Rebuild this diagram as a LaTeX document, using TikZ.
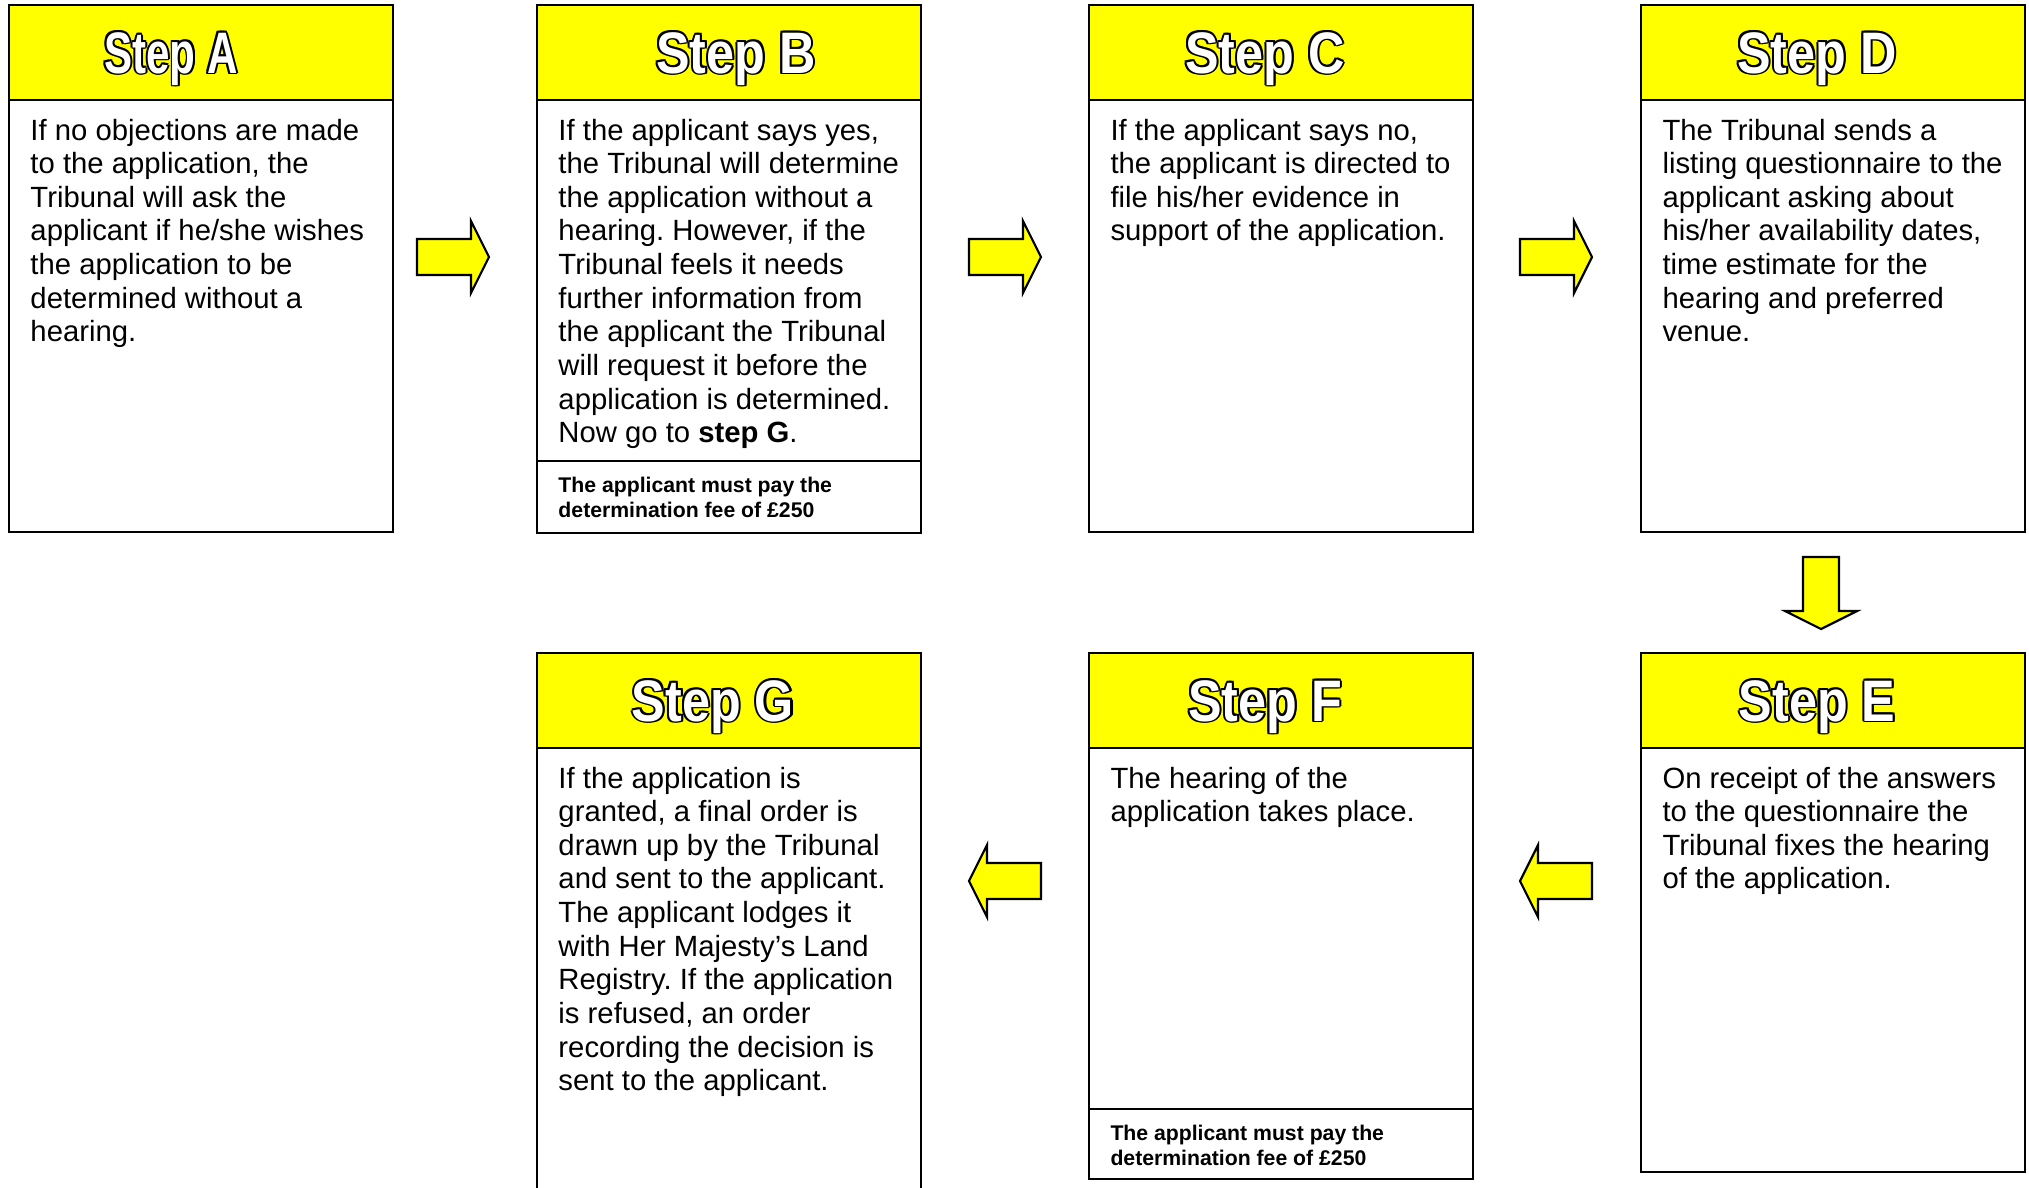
\documentclass[tikz,border=0pt]{standalone}
\usepackage{fontspec}
\setmainfont{Liberation Sans}
\usepackage{graphicx}
\frenchspacing
\definecolor{hdryellow}{RGB}{255,255,0}
\newcommand\oc[3]{\rlap{\kern#1\raisebox{#2}{\color{black}#3}}}
\newcommand\outl[2]{\scalebox{#1}[1]{\fontsize{24pt}{24pt}\selectfont\bfseries
 \oc{1.0pt}{0pt}{#2}\oc{-1.0pt}{0pt}{#2}\oc{0pt}{0.8pt}{#2}\oc{0pt}{-0.8pt}{#2}%
 \oc{0.75pt}{0.57pt}{#2}\oc{-0.75pt}{0.57pt}{#2}\oc{0.75pt}{-0.57pt}{#2}\oc{-0.75pt}{-0.57pt}{#2}%
 \textcolor{white}{#2}}}
\newcommand\bodytxt[1]{\parbox[t]{170pt}{\fontsize{12pt}{13.8pt}\selectfont #1}}
\newcommand\feetxt{\parbox[t]{170pt}{\fontsize{8.7pt}{10.5pt}\selectfont\bfseries The applicant must pay the\\ determination fee of £250}}
\tikzset{
 boxline/.style={draw=black, line width=1.1pt},
 hdrbox/.style={boxline, fill=hdryellow},
 txt/.style={inner sep=0pt, anchor=base west},
 hdr/.style={inner sep=0pt, anchor=base},
 barrow/.style={draw=black, line width=0.9pt, fill=hdryellow, line join=miter},
 pics/blockarrow/.style={code={\draw[barrow] (-36,-18) -- (18,-18) -- (18,-36) -- (36,0) -- (18,36) -- (18,18) -- (-36,18) -- cycle;}}
}
% #1 name, #2 left x, #3 top y, #4 bottom y, #5 header text x, #6 letter, #7 header x-scale
\newcommand\mkstep[7]{%
  \draw[hdrbox] (#2,#3) rectangle (#2+384,#3+95);
  \draw[boxline] (#2,#3+95) rectangle (#2+384,#4);
  \node[hdr] (#1h) at (#5,#3+68) {\outl{#7}{Step #6}};
}
\begin{document}
\begin{tikzpicture}[x=0.41pt,y=-0.41pt]
\useasboundingbox (0,0) rectangle (2029,1187);
\clip (0,0) rectangle (2029,1187);
\fill[white] (0,0) rectangle (2029,1187);

% top row
\mkstep{A}{9}{5}{532}{171}{A}{0.72}
\mkstep{B}{537}{5}{533}{736}{B}{0.86}
\mkstep{C}{1089}{5}{532}{1265}{C}{0.86}
\mkstep{D}{1641}{5}{532}{1817}{D}{0.86}
% bottom row
\mkstep{E}{1641}{653}{1172}{1817}{E}{0.86}
\mkstep{F}{1089}{653}{1179}{1265}{F}{0.86}
\mkstep{G}{537}{653}{1220}{713}{G}{0.86}

% fee separators
\draw[boxline] (537,461) -- (921,461);
\draw[boxline] (1089,1109) -- (1473,1109);

% body texts
\node[txt] (At) at (30,140) {\bodytxt{If no objections are made\\ to the application, the\\ Tribunal will ask the\\ applicant if he/she wishes\\ the application to be\\ determined without a\\ hearing.}};
\node[txt] (Bt) at (558,140) {\bodytxt{If the applicant says yes,\\ the Tribunal will determine\\ the application without a\\ hearing. However, if the\\ Tribunal feels it needs\\ further information from\\ the applicant the Tribunal\\ will request it before the\\ application is determined.\\ Now go to \textbf{step G}.}};
\node[txt] (Bf) at (558,492) {\feetxt};
\node[txt] (Ct) at (1110,140) {\bodytxt{If the applicant says no,\\ the applicant is directed to\\ file his/her evidence in\\ support of the application.}};
\node[txt] (Dt) at (1662,140) {\bodytxt{The Tribunal sends a\\ listing questionnaire to the\\ applicant asking about\\ his/her availability dates,\\ time estimate for the\\ hearing and preferred\\ venue.}};
\node[txt] (Et) at (1662,788) {\bodytxt{On receipt of the answers\\ to the questionnaire the\\ Tribunal fixes the hearing\\ of the application.}};
\node[txt] (Ft) at (1110,788) {\bodytxt{The hearing of the\\ application takes place.}};
\node[txt] (Ff) at (1110,1140) {\feetxt};
\node[txt] (Gt) at (558,788) {\bodytxt{If the application is\\ granted, a final order is\\ drawn up by the Tribunal\\ and sent to the applicant.\\ The applicant lodges it\\ with Her Majesty’s Land\\ Registry. If the application\\ is refused, an order\\ recording the decision is\\ sent to the applicant.}};

% block arrows
\pic at (453,257) {blockarrow};
\pic at (1005,257) {blockarrow};
\pic at (1556,257) {blockarrow};
\pic[rotate=-90] at (1821,593) {blockarrow};
\pic[rotate=180] at (1556,881) {blockarrow};
\pic[rotate=180] at (1005,881) {blockarrow};
\end{tikzpicture}
\end{document}
